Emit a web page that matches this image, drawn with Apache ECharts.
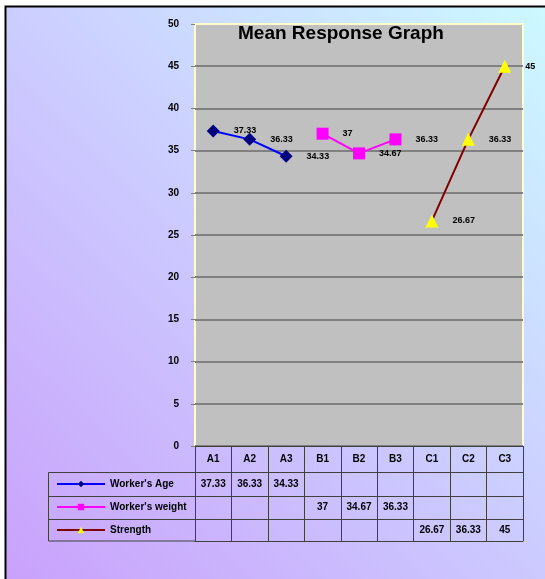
<!DOCTYPE html>
<html>
<head>
<meta charset="utf-8">
<script src="https://cdn.jsdelivr.net/npm/echarts@6/dist/echarts.min.js"></script>
<style>
html,body{margin:0;padding:0;background:#fff;}
#c{width:545px;height:579px;}
</style>
</head>
<body>
<div id="c"></div>
<script>
const categories = ['A1', 'A2', 'A3', 'B1', 'B2', 'B3', 'C1', 'C2', 'C3'];
const seriesNames = ["Worker's Age", "Worker's weight", 'Strength'];
const ageValues = [37.33, 36.33, 34.33, null, null, null, null, null, null];
const weightValues = [null, null, null, 37, 34.67, 36.33, null, null, null];
const strengthValues = [null, null, null, null, null, null, 26.67, 36.33, 45];
const yMin = 0, yMax = 50, yStep = 5;
const titleText = 'Mean Response Graph';

const FONT = "'Liberation Sans', Arial, sans-serif";
const chart = echarts.init(document.getElementById('c'), null, {renderer: 'canvas'});

const GRID = {left: 195, right: 22, top: 24, bottom: 133};
const rowOffsets = [0, 26, 50, 73, 95];
const rowHeights = [26, 24, 23, 22];
const tableLine = '#404040';

function tableAxis(idx, vals) {
  return {
    type: 'category', gridIndex: 0, position: 'bottom', offset: rowOffsets[idx],
    data: categories, boundaryGap: true,
    axisLine: {show: true, lineStyle: {color: tableLine, width: 1}},
    axisTick: {show: true, interval: 0, alignWithLabel: false, length: rowHeights[idx], lineStyle: {color: tableLine, width: 1}},
    axisLabel: {
      show: true, interval: 0, margin: rowHeights[idx] / 2, verticalAlign: 'middle',
      fontFamily: FONT, fontWeight: 'bold', fontSize: 10, color: '#000',
      formatter: vals ? function (v, i) { return vals[i] == null ? '' : String(vals[i]); } : null
    },
    splitLine: {show: false}
  };
}

const labelCfg = {show: true, position: 'right', distance: 14, fontFamily: FONT, fontWeight: 'bold', fontSize: 9, color: '#000'};

const option = {
  animation: false,
  backgroundColor: '#ffffff',
  textStyle: {fontFamily: FONT},
  graphic: [
    {type: 'rect', z: -100, shape: {x: 5.5, y: 6.5, width: 620, height: 640},
     style: {fill: new echarts.graphic.LinearGradient(0, 1, 1, 0, [
        {offset: 0, color: '#c99cfb'}, {offset: 0.5, color: '#ccccff'}, {offset: 1, color: '#ccffff'}]),
       stroke: '#000', lineWidth: 2}},
    {type: 'rect', z: 5, shape: {x: 48.5, y: 472.5, width: 147, height: 68.5},
     style: {fill: 'none', stroke: tableLine, lineWidth: 1}},
    {type: 'line', z: 5, shape: {x1: 48.5, y1: 496.5, x2: 195.5, y2: 496.5}, style: {stroke: tableLine, lineWidth: 1}},
    {type: 'line', z: 5, shape: {x1: 48.5, y1: 519.5, x2: 195.5, y2: 519.5}, style: {stroke: tableLine, lineWidth: 1}}
  ],
  title: {
    text: titleText, left: 238, top: 24, padding: 0,
    textStyle: {fontFamily: FONT, fontWeight: 'bold', fontSize: 19, color: '#000'}
  },
  legend: {
    orient: 'vertical', left: 56, top: 479, padding: 0,
    itemWidth: 48, itemHeight: 8, itemGap: 13,
    data: seriesNames,
    textStyle: {fontFamily: FONT, fontWeight: 'bold', fontSize: 10, lineHeight: 10, color: '#000'},
    selectedMode: false
  },
  grid: Object.assign({show: true, backgroundColor: '#c0c0c0', borderColor: '#ffffcc', borderWidth: 2}, GRID),
  xAxis: [
    tableAxis(0, null),
    tableAxis(1, ageValues),
    tableAxis(2, weightValues),
    tableAxis(3, strengthValues),
    {type: 'category', gridIndex: 0, position: 'bottom', offset: rowOffsets[4], data: categories,
     axisLine: {show: true, lineStyle: {color: tableLine, width: 1}}, axisTick: {show: false}, axisLabel: {show: false}}
  ],
  yAxis: {
    type: 'value', min: yMin, max: yMax, interval: yStep,
    axisLine: {show: false},
    axisTick: {show: true, length: 4, lineStyle: {color: '#808080', width: 1}},
    axisLabel: {margin: 16, fontFamily: FONT, fontWeight: 'bold', fontSize: 10, color: '#000'},
    splitLine: {show: true, showMaxLine: false, lineStyle: {color: '#808080', width: 2}}
  },
  series: [
    {name: seriesNames[0], type: 'line', xAxisIndex: 0, data: ageValues, symbol: 'diamond', symbolSize: 13,
     itemStyle: {color: '#000080'}, lineStyle: {color: '#0000ff', width: 2}, label: labelCfg, emphasis: {disabled: true}},
    {name: seriesNames[1], type: 'line', xAxisIndex: 0, data: weightValues, symbol: 'rect', symbolSize: 12,
     itemStyle: {color: '#ff00ff'}, lineStyle: {color: '#ff00ff', width: 2}, label: labelCfg, emphasis: {disabled: true}},
    {name: seriesNames[2], type: 'line', xAxisIndex: 0, data: strengthValues, symbol: 'triangle', symbolSize: 13,
     itemStyle: {color: '#ffff00'}, lineStyle: {color: '#800000', width: 2}, label: labelCfg, emphasis: {disabled: true}}
  ]
};
chart.setOption(option);
</script>
</body>
</html>
